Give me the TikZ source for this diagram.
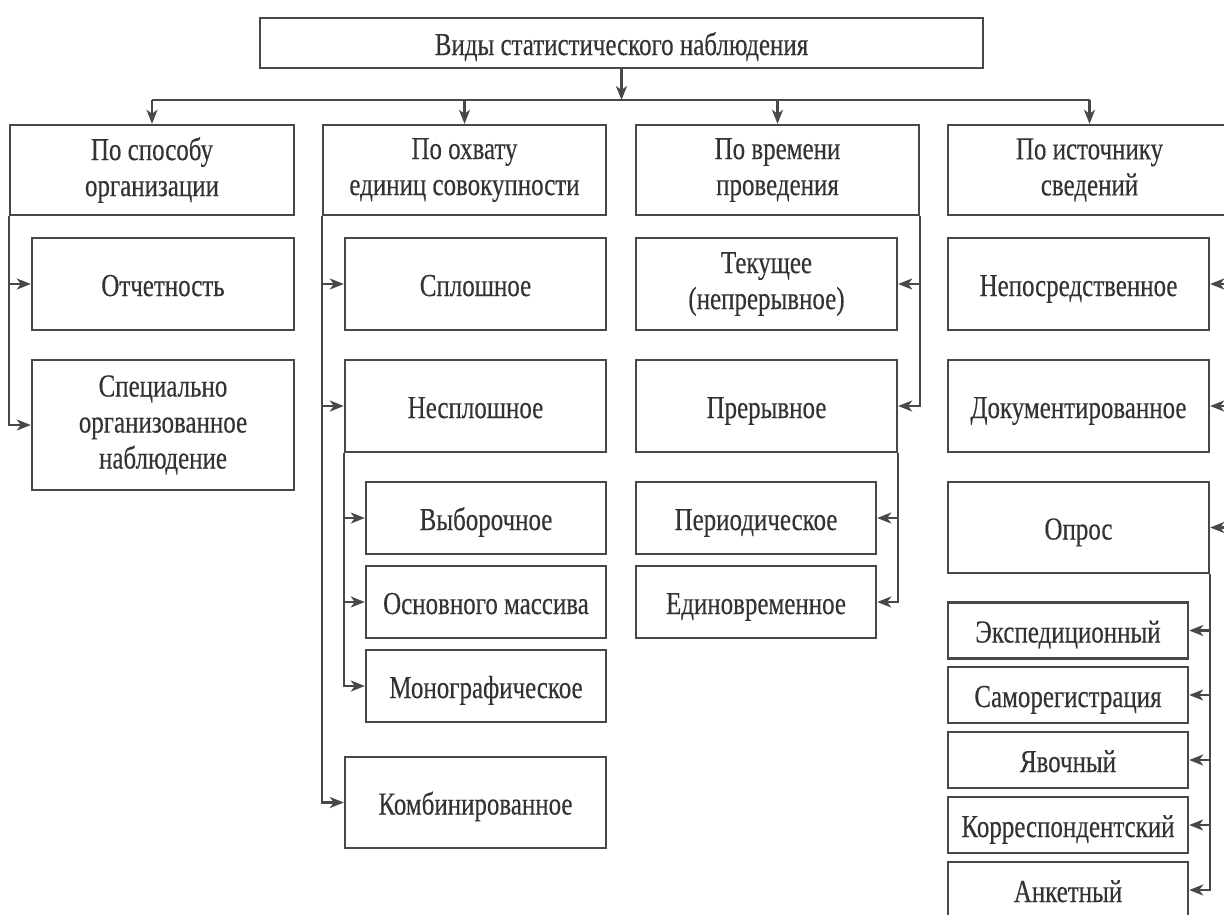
\documentclass[tikz,border=0pt]{standalone}
\usepackage{fontspec}
\setmainfont[FakeStretch=0.78,FakeBold=0.3]{Liberation Serif}
\usetikzlibrary{arrows.meta}
\definecolor{linec}{HTML}{484848}
\definecolor{textc}{HTML}{333333}
\begin{document}
\begin{tikzpicture}[x=1pt,y=1pt,
 box/.style={draw=linec, line width=2.4pt, rectangle, inner sep=0pt, align=center, text=textc, font=\fontsize{32}{36}\selectfont},
 one/.style={text height=24pt, text depth=0pt},
 wide/.style={box, minimum width=261pt, minimum height=92pt},
 narrow/.style={box, one, minimum width=240pt, minimum height=72pt},
 small/.style={box, one, minimum width=240pt, minimum height=56pt},
 cat/.style={box, minimum width=283pt, minimum height=90pt},
 arr/.style={draw=linec, line width=2.2pt, -{Stealth[length=14pt,width=11pt,inset=4pt]}},
 ln/.style={draw=linec, line width=2.2pt}]
\useasboundingbox (0,0) rectangle (1224,-914);
\fill[white] (0,0) rectangle (1224,-914);

\node[box, one, minimum width=723pt, minimum height=50pt] (top) at (621.5,-43) {Виды статистического наблюдения};

\node[cat, minimum width=284pt] (C1) at (152,-170) {По способу\\организации};
\node[cat] (C2) at (464.5,-170) {По охвату\\единиц совокупности};
\node[cat] (C3) at (777.5,-170) {По времени\\проведения};
\node[cat] (C4) at (1089.5,-170) {По источнику\\сведений};

\coordinate (bus) at (621.5,-100);
\draw[arr] (top.south) -- (bus);
\draw[ln] (C1.north |- bus) -- (C4.north |- bus);
\foreach \c in {C1,C2,C3,C4} \draw[arr] (\c.north |- bus) -- (\c.north);

% column 1
\node[wide, one, minimum width=262pt] (otch) at (163,-284) {Отчетность};
\node[wide, minimum width=262pt, minimum height=130pt] (spec) at (163,-425) {Специально\\организованное\\наблюдение};
\draw[arr] (C1.south west) |- (otch.west);
\draw[arr] (C1.south west) |- (spec.west);

% column 2
\node[wide, one] (splo) at (475.5,-284) {Сплошное};
\node[wide, one] (nesp) at (475.5,-406) {Несплошное};
\node[narrow] (vyb) at (486,-518) {Выборочное};
\node[narrow] (osn) at (486,-602) {Основного массива};
\node[narrow] (mono) at (486,-686) {Монографическое};
\node[wide, one, minimum height=91pt] (komb) at (475.5,-802.5) {Комбинированное};
\draw[arr] (C2.south west) |- (splo.west);
\draw[arr] (C2.south west) |- (nesp.west);
\draw[arr] (C2.south west) |- (komb.west);
\draw[arr] (nesp.south west) |- (vyb.west);
\draw[arr] (nesp.south west) |- (osn.west);
\draw[arr] (nesp.south west) |- (mono.west);

% column 3
\node[wide] (tek) at (766.5,-284) {Текущее\\(непрерывное)};
\node[wide, one] (prer) at (766.5,-406) {Прерывное};
\node[narrow] (period) at (756,-518) {Периодическое};
\node[narrow] (edin) at (756,-602) {Единовременное};
\draw[arr] (C3.south east) |- (tek.east);
\draw[arr] (C3.south east) |- (prer.east);
\draw[arr] (prer.south east) |- (period.east);
\draw[arr] (prer.south east) |- (edin.east);

% column 4
\node[wide, one] (nepo) at (1078.5,-284) {Непосредственное};
\node[wide, one] (doc) at (1078.5,-406) {Документированное};
\node[wide, one, minimum height=91pt] (opros) at (1078.5,-527.5) {Опрос};
\node[small] (eksp) at (1068,-630.5) {Экспедиционный};
\node[small] (samo) at (1068,-695) {Саморегистрация};
\node[small] (yav) at (1068,-760) {Явочный};
\node[small] (korr) at (1068,-825) {Корреспондентский};
\node[small] (anket) at (1068,-890) {Анкетный};
\draw[arr] (C4.south east) |- (nepo.east);
\draw[arr] (C4.south east) |- (doc.east);
\draw[arr] (C4.south east) |- (opros.east);
\foreach \b in {eksp,samo,yav,korr,anket} \draw[arr] (opros.south east) |- (\b.east);
\end{tikzpicture}
\end{document}
